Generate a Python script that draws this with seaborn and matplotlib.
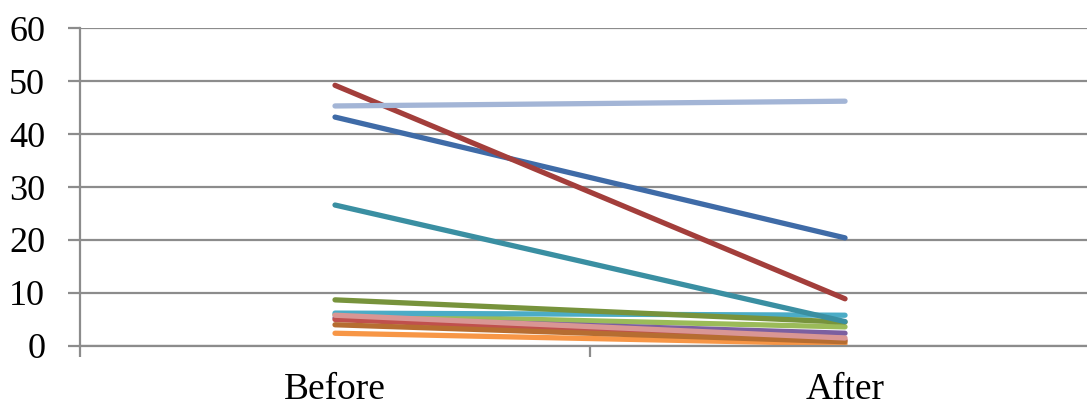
import matplotlib
matplotlib.use("Agg")
import matplotlib.pyplot as plt
import seaborn as sns
import pandas as pd

categories = ["Before", "After"]
series_names = ["S1", "S2", "S3", "S4", "S5", "S6", "S7", "S8", "S9", "S10", "S11", "S12"]
before = [43.2, 49.2, 5.9, 5.3, 6.2, 2.4, 5.0, 8.7, 26.6, 4.0, 45.3, 5.8]
after = [20.4, 8.9, 3.6, 2.4, 5.8, 0.4, 1.1, 4.5, 4.6, 0.8, 46.2, 1.5]
colors = ["#3F6BA7", "#A33E3B", "#9BBB59", "#7B5FA0", "#4BACC6", "#F79646",
          "#C0504D", "#77933C", "#3A8FA2", "#B66D31", "#A3B5D6", "#D99694"]
y_ticks = [0, 10, 20, 30, 40, 50, 60]

rows = []
for name, b, a in zip(series_names, before, after):
    rows.append({"series": name, "phase": categories[0], "value": b})
    rows.append({"series": name, "phase": categories[1], "value": a})
df = pd.DataFrame(rows)

sns.set_style("white")
plt.rcParams["font.family"] = ["Liberation Serif", "DejaVu Serif"]

fig = plt.figure(figsize=(10.87, 4.07), dpi=100)
ax = fig.add_axes([0.0736, 0.150, 0.9384, 0.781])

sns.lineplot(data=df, x="phase", y="value", hue="series", hue_order=series_names,
             palette=colors, linewidth=3.8, ax=ax, legend=False, sort=False,
             solid_capstyle="round")

ax.set_xlim(-0.5, 1.5)
ax.set_ylim(0, 60)
ax.set_yticks(y_ticks)
ax.set_yticklabels([str(t) for t in y_ticks], fontsize=26, color="black")
ax.set_xticks([0, 1])
ax.set_xticklabels(categories, fontsize=27, color="black")
ax.set_xlabel("")
ax.set_ylabel("")

grid_c = "#8C8C8C"
ax.yaxis.grid(True, color=grid_c, linewidth=1.6)
ax.set_axisbelow(True)
for side in ["top", "right"]:
    ax.spines[side].set_visible(False)
for side in ["left", "bottom"]:
    ax.spines[side].set_color(grid_c)
    ax.spines[side].set_linewidth(1.6)

ax.tick_params(axis="y", which="major", length=9, width=1.6, color=grid_c, pad=16, direction="out", left=True)
ax.tick_params(axis="x", which="major", length=0, pad=19)
# category boundary ticks
ax.set_xticks([-0.5, 0.5, 1.5], minor=True)
ax.tick_params(axis="x", which="minor", length=8, width=1.6, color=grid_c, direction="out", bottom=True)

fig.savefig("out.png", dpi=100)
